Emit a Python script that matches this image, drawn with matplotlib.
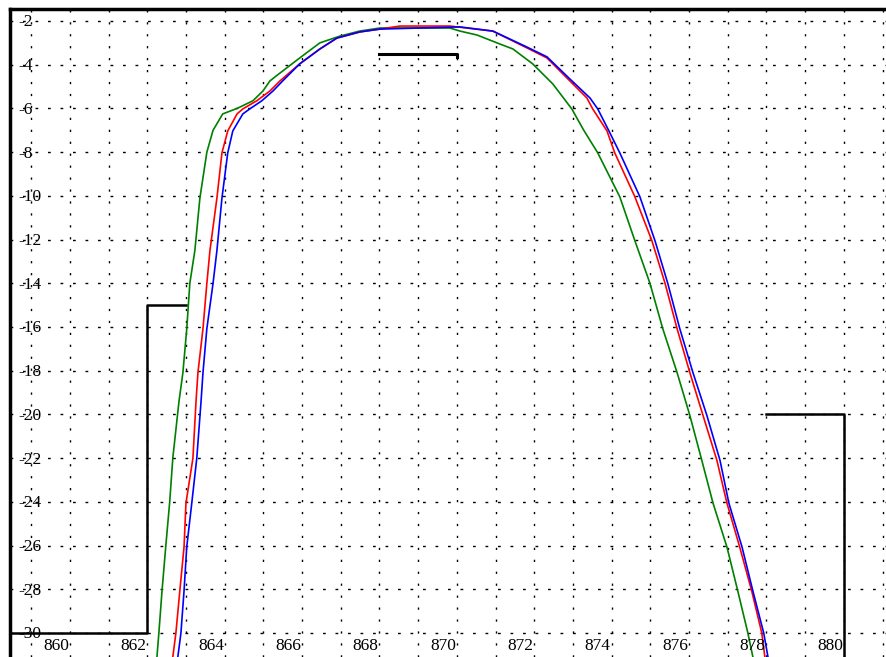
import numpy as np
from matplotlib import pyplot as plt

# filter responses (MHz, dB)
green_f = [862.25, 862.30, 862.38, 862.48, 862.58, 862.66, 862.82, 862.92, 863.02, 863.10,
           863.23, 863.36, 863.54, 863.70, 863.95, 864.32, 864.73, 864.99, 865.17, 865.43,
           865.94, 866.46, 866.98, 867.49, 868.01, 869.04, 869.82, 870.08, 870.52, 871.11,
           871.45, 871.96, 872.48, 872.97, 873.28, 873.64, 874.21, 874.60, 874.99, 875.32,
           875.69, 876.02, 876.33, 876.62, 876.98, 877.26, 877.52, 877.65]
green_db = [-31.1, -30.0, -28.1, -26.0, -24.0, -22.0, -19.4, -18.1, -16.1, -14.0,
            -12.5, -10.1, -8.0, -7.0, -6.25, -6.0, -5.65, -5.2, -4.74, -4.38,
            -3.69, -3.0, -2.69, -2.46, -2.32, -2.32, -2.32, -2.46, -2.64, -3.05,
            -3.28, -3.96, -4.88, -6.02, -7.0, -8.03, -10.04, -12.05, -14.0, -16.07,
            -18.08, -20.04, -22.1, -24.06, -26.07, -28.08, -30.0, -31.1]

red_f = [862.66, 862.74, 862.84, 862.95, 863.00, 863.18, 863.26, 863.31, 863.44, 863.54,
         863.62, 863.80, 863.93, 864.08, 864.32, 864.47, 864.83, 865.17, 865.43, 865.94,
         866.46, 866.90, 867.49, 868.01, 868.53, 869.82, 870.93, 871.81, 872.33, 872.92,
         873.36, 873.51, 873.88, 874.08, 874.60, 875.04, 875.38, 875.69, 876.02, 876.36,
         876.72, 876.98, 877.31, 877.62, 877.88, 877.96]
red_db = [-31.1, -30.0, -28.1, -26.07, -24.06, -22.0, -19.4, -18.08, -16.07, -14.0,
          -12.5, -10.1, -8.03, -7.03, -6.25, -6.02, -5.65, -5.2, -4.74, -3.96,
          -3.28, -2.78, -2.5, -2.37, -2.23, -2.23, -2.46, -3.23, -3.69, -4.74,
          -5.52, -6.02, -7.03, -8.03, -10.04, -12.05, -14.0, -16.07, -18.08, -20.04,
          -22.1, -24.06, -26.07, -28.08, -30.0, -31.1]

blue_f = [862.79, 862.87, 862.95, 863.02, 863.15, 863.28, 863.39, 863.44, 863.54, 863.70,
          863.80, 863.93, 864.08, 864.21, 864.47, 864.65, 864.96, 865.25, 865.50, 865.94,
          866.46, 866.90, 867.49, 868.01, 869.04, 870.08, 870.93, 871.81, 872.33, 872.92,
          873.44, 873.64, 873.93, 874.21, 874.73, 875.12, 875.45, 875.76, 876.10, 876.46,
          876.80, 877.03, 877.37, 877.65, 877.93, 878.04]
blue_db = [-31.1, -30.0, -28.08, -26.07, -24.06, -22.0, -19.4, -18.08, -16.07, -14.0,
           -12.5, -10.1, -8.03, -7.03, -6.25, -6.02, -5.65, -5.2, -4.74, -3.96,
           -3.28, -2.78, -2.5, -2.37, -2.32, -2.27, -2.46, -3.19, -3.64, -4.65,
           -5.52, -6.02, -7.03, -8.03, -10.04, -12.05, -14.0, -16.07, -18.08, -20.04,
           -22.1, -24.06, -26.07, -28.08, -30.0, -31.1]

# limit mask
mask_left_f = [858.4, 862.0, 862.0, 863.0]
mask_left_db = [-30.0, -30.0, -15.0, -15.0]
mask_top_f = [868.0, 870.0, 870.0]
mask_top_db = [-3.5, -3.5, -3.65]
mask_right_f = [878.0, 880.0, 880.0]
mask_right_db = [-20.0, -20.0, -31.2]

x_ticks = list(range(860, 881, 2))
y_ticks = list(range(-2, -31, -2))

fig = plt.figure(figsize=(8.86, 6.57), dpi=100)
ax = fig.add_axes([9.5 / 886, 0, 1 - 9.5 / 886, 1 - 9 / 657])
ax.set_xlim(858.44, 881.09)
ax.set_ylim(-31.1, -1.45)

# dotted grid: every MHz vertically, every 2 dB horizontally
for f in range(859, 882):
    ax.axvline(f, color='black', lw=1, dashes=(1.6, 7), zorder=1)
for d in y_ticks:
    ax.axhline(d, color='black', lw=1, dashes=(2, 7), zorder=1)

ax.plot(mask_left_f, mask_left_db, color='black', lw=1.8, zorder=3)
ax.plot(mask_top_f, mask_top_db, color='black', lw=2.2, zorder=3)
ax.plot(mask_right_f, mask_right_db, color='black', lw=1.8, zorder=3)

ax.plot(green_f, green_db, color='#008000', lw=1.2, zorder=4)
ax.plot(red_f, red_db, color='#ff0000', lw=1.2, zorder=5)
ax.plot(blue_f, blue_db, color='#0000ff', lw=1.2, zorder=6)

# labels sit inside the plot area
font = dict(family='Liberation Serif', size=12.5, color='black')
for f in x_ticks:
    ax.text(f - 0.02, -30.78, str(f), ha='right', va='baseline', zorder=7, **font)
for d in y_ticks:
    ax.text(858.68, d - 0.25, str(d), ha='left', va='baseline', zorder=7, **font)

ax.set_xticks([])
ax.set_yticks([])
ax.spines['right'].set_visible(False)
ax.spines['bottom'].set_visible(False)
ax.spines['left'].set_linewidth(2.5)
ax.spines['top'].set_linewidth(2.5)

plt.savefig('out.png', dpi=100)
